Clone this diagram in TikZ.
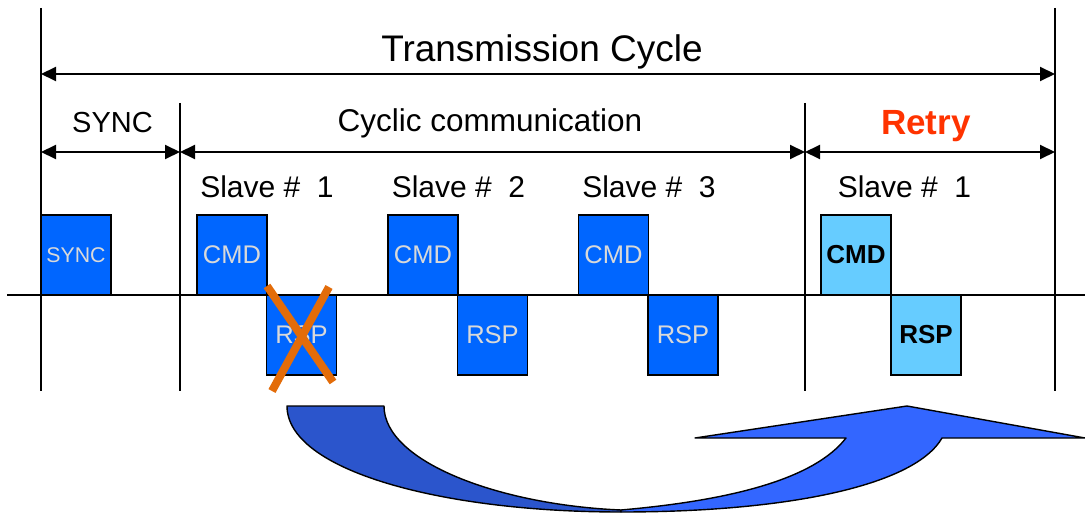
\documentclass[tikz,border=0pt]{standalone}
\usepackage{fontspec}
\setmainfont{Liberation Sans}
\usetikzlibrary{arrows.meta}
\definecolor{boxblue}{HTML}{0066FF}
\definecolor{lightblue}{HTML}{66CCFF}
\definecolor{boxtext}{HTML}{D9D9D9}
\definecolor{retryred}{HTML}{FF3300}
\definecolor{crossorange}{HTML}{E36C09}
\definecolor{arrowdark}{HTML}{2B55CC}
\definecolor{arrowlight}{HTML}{3366FF}
\newcommand{\fsz}[1]{\fontsize{#1}{#1}\selectfont}
\begin{document}
\begin{tikzpicture}[x=1pt,y=-1pt,
  frame/.style={line width=1.6pt},
  dim/.style={line width=2pt,
    {Triangle[length=15pt,width=14pt]}-{Triangle[length=15pt,width=14pt]}},
  pkt/.style={draw=black,line width=1.6pt,fill=boxblue,text=boxtext,
    minimum width=70pt,minimum height=80pt,inner sep=0pt,outer sep=0pt,
    font=\fsz{25.5}},
  retrypkt/.style={pkt,fill=lightblue,text=black,font=\fsz{26}\bfseries},
  lbl/.style={anchor=base,inner sep=0pt},
  crossline/.style={draw=crossorange,line width=8pt}
]
\useasboundingbox[fill=white] (0,0) rectangle (1085,513);

% time axis
\coordinate (axL) at (7,295);
\coordinate (axR) at (1085,295);
\draw[line width=1.4pt] (axL) -- (axR);

% vertical frame lines
\coordinate (vAt) at (41,8);    \coordinate (vAb) at (41,391);
\coordinate (vBt) at (180,103); \coordinate (vBb) at (180,391);
\coordinate (vCt) at (805,103); \coordinate (vCb) at (805,391);
\coordinate (vDt) at (1055,8);  \coordinate (vDb) at (1055,391);
\draw[frame] (vAt) -- (vAb);
\draw[frame] (vBt) -- (vBb);
\draw[frame] (vCt) -- (vCb);
\draw[frame] (vDt) -- (vDb);

% dimension arrows
\coordinate (tA) at (41,74);  \coordinate (tD) at (1055,74);
\coordinate (sA) at (41,152); \coordinate (sB) at (180,152);
\coordinate (sC) at (805,152); \coordinate (sD) at (1055,152);
\draw[dim] (tA) -- (tD);
\draw[dim] (sA) -- (sB);
\draw[dim] (sB) -- (sC);
\draw[dim] (sC) -- (sD);

% labels
\node[lbl,font=\fsz{37}] (ttl) at (542,61.5) {Transmission Cycle};
\node[lbl,font=\fsz{29}] (lsync) at (112.5,133) {SYNC};
\node[lbl,font=\fsz{31.5}] (lcyc) at (490,132) {Cyclic communication};
\node[lbl,font=\fsz{35}\bfseries\color{retryred}] (lretry) at (926,135) {Retry};
\node[lbl,font=\fsz{30}] (ls1) at (267,198) {Slave \#\ \ 1};
\node[lbl,font=\fsz{30}] (ls2) at (458.5,198) {Slave \#\ \ 2};
\node[lbl,font=\fsz{30}] (ls3) at (649,198) {Slave \#\ \ 3};
\node[lbl,font=\fsz{30}] (ls4) at (904.5,198) {Slave \#\ \ 1};

% packets
\node[pkt,font=\fsz{21.3}] (sync) at (76,255) {SYNC};
\node[pkt] (cmd1) at (232,255) {CMD};
\node[pkt] (rsp1) at (301.5,335) {RSP};
\node[pkt] (cmd2) at (423,255) {CMD};
\node[pkt] (rsp2) at (492.5,335) {RSP};
\node[pkt] (cmd3) at (613.5,255) {CMD};
\node[pkt] (rsp3) at (683,335) {RSP};
\node[retrypkt] (cmd4) at (856,255) {CMD};
\node[retrypkt] (rsp4) at (926,335) {RSP};

% failed response
\coordinate (xa1) at (267,286); \coordinate (xa2) at (333,382);
\coordinate (xb1) at (329,287); \coordinate (xb2) at (272,391);
\draw[crossline] (xa1) -- (xa2);
\draw[crossline] (xb1) -- (xb2);

% curved retry arrow
\draw[fill=arrowdark,line width=1.4pt,line join=round]
  (287,406) -- (384,406)
  .. controls (384,462) and (500,505) .. (621,510)
  -- (621,512)
  .. controls (440,512) and (287,470) .. (287,406) -- cycle;
\draw[fill=arrowlight,line width=1.4pt,line join=round]
  (621,510) .. controls (735,500) and (815,478) .. (846,438)
  -- (695,438) -- (907,406) -- (1085,438) -- (942,438)
  .. controls (915,485) and (790,512) .. (621,512) -- cycle;
\end{tikzpicture}
\end{document}
